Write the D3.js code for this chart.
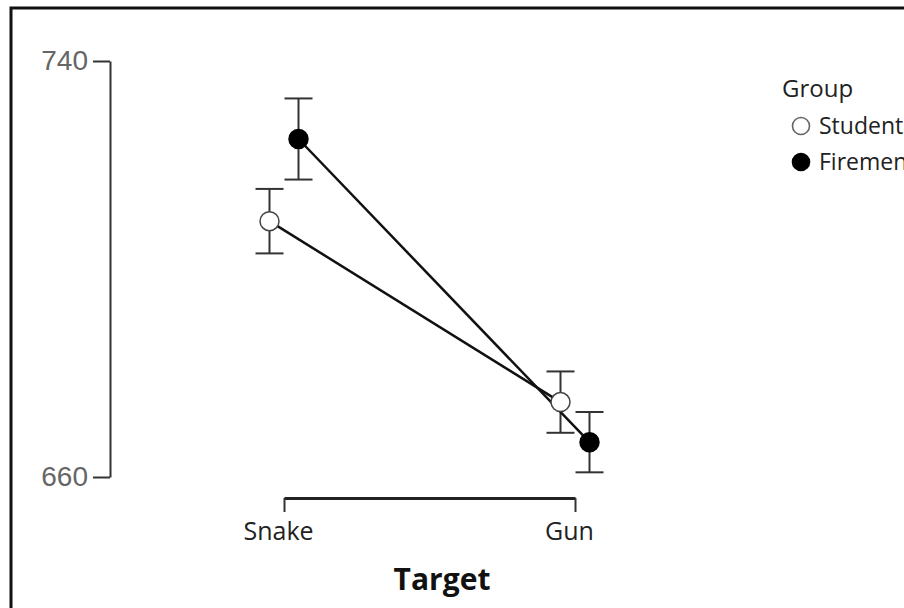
<!DOCTYPE html>
<html>
<head>
<meta charset="utf-8">
<script src="https://cdn.jsdelivr.net/npm/d3@7"></script>
<style>
  body { margin: 0; background: #fff; }
  svg { display: block; }
</style>
</head>
<body>
<svg id="chart" width="904" height="608"></svg>
<script>
const targets = ['Snake', 'Gun'];
const groups = ['Students', 'Firemen'];
const studentMeans = [709.2, 674.4];
const studentErr = [6.2, 5.9];
const firemenMeans = [725.0, 666.7];
const firemenErr = [7.8, 5.8];
const yTicks = [660, 740];

const series = [
  { group: 'Students', means: studentMeans, err: studentErr, fill: '#fff' },
  { group: 'Firemen', means: firemenMeans, err: firemenErr, fill: '#000' }
];

const svg = d3.select('#chart');

// frame (only top and left edges are visible in the shot)
svg.append('rect')
  .attr('x', 11).attr('y', 8)
  .attr('width', 1000).attr('height', 700)
  .attr('fill', 'none')
  .attr('stroke', '#111')
  .attr('stroke-width', 3);

const x = d3.scalePoint()
  .domain(targets)
  .range([284, 575]);

const dodge = d3.scalePoint()
  .domain(groups)
  .range([-14.5, 14.5]);

const y = d3.scaleLinear()
  .domain([660, 740])
  .range([477, 61]);

// y axis
const yAxis = svg.append('g')
  .attr('transform', 'translate(110,0)')
  .call(d3.axisLeft(y).tickValues(yTicks).tickSize(17).tickSizeOuter(0).tickPadding(5));
yAxis.select('.domain').attr('stroke', '#333').attr('stroke-width', 2);
yAxis.selectAll('.tick line').attr('stroke', '#333').attr('stroke-width', 2);
yAxis.selectAll('.tick text')
  .attr('fill', '#666')
  .attr('font-family', 'Liberation Sans, Arial, sans-serif')
  .attr('font-size', 28);

// x axis
const xAxis = svg.append('g')
  .attr('transform', 'translate(0,498)')
  .call(d3.axisBottom(x).tickSize(14).tickSizeOuter(0).tickPadding(10));
xAxis.select('.domain').attr('stroke', '#222').attr('stroke-width', 3);
xAxis.selectAll('.tick line').attr('stroke', '#333').attr('stroke-width', 2);
xAxis.selectAll('.tick text')
  .attr('fill', '#222')
  .attr('font-family', 'Open Sans, sans-serif')
  .attr('font-size', 25)
  .attr('dx', -6);

svg.append('text')
  .attr('x', 442)
  .attr('y', 590)
  .attr('text-anchor', 'middle')
  .attr('font-family', 'Open Sans, sans-serif')
  .attr('font-weight', 'bold')
  .attr('font-size', 30)
  .attr('fill', '#111')
  .text('Target');

const px = (s, i) => x(targets[i]) + dodge(s.group);

// error bars
series.forEach(s => {
  const g = svg.append('g');
  targets.forEach((t, i) => {
    const cx = px(s, i);
    const top = y(s.means[i] + s.err[i]);
    const bot = y(s.means[i] - s.err[i]);
    g.append('line').attr('x1', cx).attr('x2', cx).attr('y1', top).attr('y2', bot);
    g.append('line').attr('x1', cx - 14).attr('x2', cx + 14).attr('y1', top).attr('y2', top);
    g.append('line').attr('x1', cx - 14).attr('x2', cx + 14).attr('y1', bot).attr('y2', bot);
  });
  g.selectAll('line').attr('stroke', '#333').attr('stroke-width', 2);
});

// lines
const line = d3.line()
  .x(d => d.x)
  .y(d => y(d.v));

series.forEach(s => {
  const pts = targets.map((t, i) => ({ x: px(s, i), v: s.means[i] }));
  svg.append('path')
    .attr('d', line(pts))
    .attr('fill', 'none')
    .attr('stroke', '#111')
    .attr('stroke-width', 2.5);
});

// points
series.forEach(s => {
  svg.append('g').selectAll('circle')
    .data(targets.map((t, i) => ({ x: px(s, i), v: s.means[i] })))
    .join('circle')
    .attr('cx', d => d.x)
    .attr('cy', d => y(d.v))
    .attr('r', 9.5)
    .attr('fill', s.fill)
    .attr('stroke', s.fill === '#fff' ? '#444' : '#000')
    .attr('stroke-width', 1.5);
});

// legend
const legend = svg.append('g')
  .attr('font-family', 'Open Sans, sans-serif')
  .attr('font-size', 23)
  .attr('fill', '#222');

legend.append('text')
  .attr('x', 782).attr('y', 97)
  .attr('font-size', 24)
  .attr('fill', '#222')
  .text('Group');

const legendRows = [
  { label: 'Students', fill: '#fff', y: 126 },
  { label: 'Firemen', fill: '#000', y: 162 }
];

legendRows.forEach(r => {
  legend.append('circle')
    .attr('cx', 801).attr('cy', r.y)
    .attr('r', 8.5)
    .attr('fill', r.fill)
    .attr('stroke', r.fill === '#fff' ? '#666' : '#000')
    .attr('stroke-width', 1.6);
  legend.append('text')
    .attr('x', 819).attr('y', r.y + 8)
    .attr('fill', '#222')
    .text(r.label);
});
</script>
</body>
</html>
